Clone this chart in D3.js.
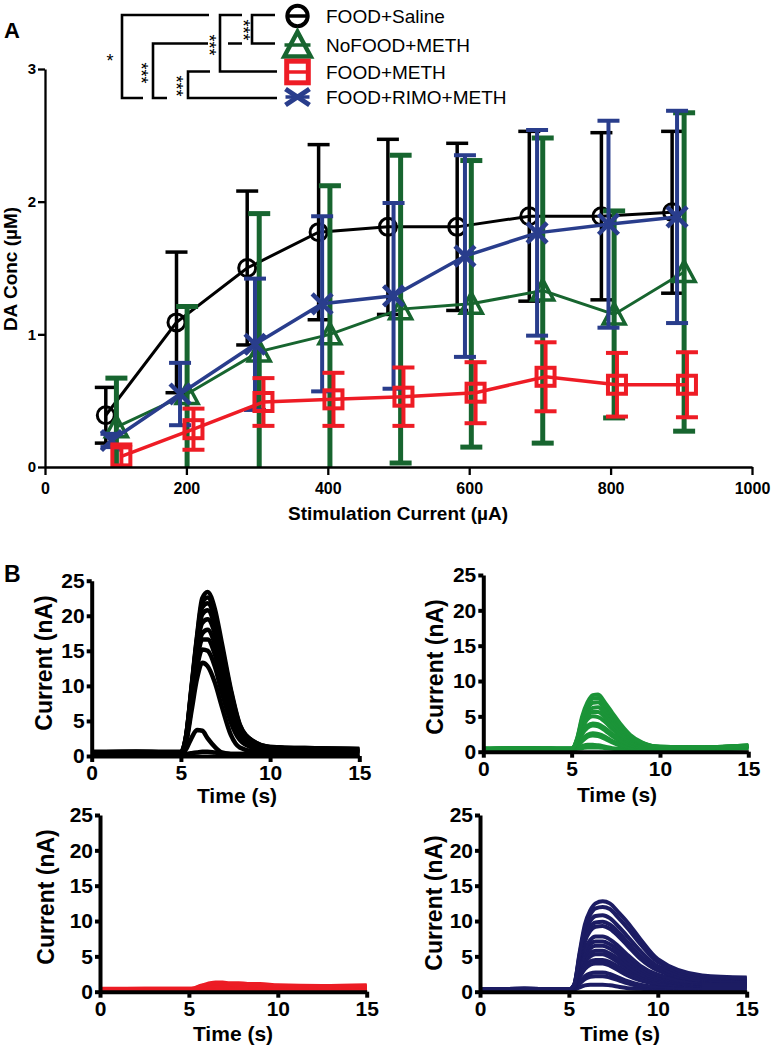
<!DOCTYPE html>
<html><head><meta charset="utf-8">
<script src="https://cdn.jsdelivr.net/npm/d3@7"></script>
<style>
body{margin:0;background:#fff}
svg{display:block}
text{font-family:Arial,"Liberation Sans",sans-serif}
</style>
</head><body>
<svg id="c" width="773" height="1050"></svg>
<script>
// ---------------- DATA: panel A ----------------
const seriesNames = ["FOOD+Saline","NoFOOD+METH","FOOD+METH","FOOD+RIMO+METH"];
const xTicksA = [0,200,400,600,800,1000];
const yTicksA = [0,1,2,3];
// stimulation current (µA) at which each group's mean is plotted (groups are offset slightly)
const salineX  = [86,186,286,387,485,583,685,787,887];
const nofoodX  = [101,201,303,403,503,603,704,805,904];
const foodMethX= [108,210,309,408,507,609,708,809,908];
const rimoX    = [94,191,297,392,493,594,696,797,894];
// DA concentration (µM) means and SEM
const salineMean = [0.39,1.09,1.50,1.77,1.81,1.81,1.89,1.89,1.92];
const salineErr  = [0.21,0.53,0.58,0.66,0.66,0.63,0.64,0.63,0.61];
const nofoodMean = [0.30,0.55,0.87,1.00,1.19,1.23,1.33,1.15,1.47];
const nofoodErr  = [0.37,0.66,1.04,1.12,1.16,1.08,1.15,0.78,1.20];
const foodMethMean = [0.08,0.285,0.49,0.51,0.53,0.56,0.68,0.62,0.62];
const foodMethErr  = [0.09,0.155,0.18,0.20,0.22,0.23,0.26,0.24,0.245];
const rimoMean = [0.20,0.55,0.925,1.23,1.29,1.59,1.765,1.83,1.885];
const rimoErr  = [0.05,0.235,0.495,0.66,0.70,0.76,0.775,0.78,0.80];
const sigLabels = ["***","***","***","***","*"];

// ---------------- DATA: panel B ----------------
const xTicksB = [0,5,10,15];
const yTicksB = [0,5,10,15,20,25];
const traceTimes = [0,2.5,5.0,5.3,5.6,5.9,6.2,6.5,6.9,7.3,7.8,8.3,9.0,10,12.5,15];
const salineTraces = [
 [0.2,0.3,0.2,0.3,0.4,0.5,0.6,0.6,0.5,0.4,0.3,0.3,0.3,0.3,0.3,0.3],
 [0.3,0.4,0.3,1.0,2.6,3.7,3.6,2.5,1.3,0.5,0.3,0.3,0.3,0.3,0.3,0.3],
 [0.3,0.4,0.4,2.0,6.5,11.0,13.3,12.8,10.5,7.0,3.0,1.2,0.7,0.6,0.5,0.5],
 [0.4,0.5,0.4,2.2,7.3,12.6,15.2,15.0,12.8,9.0,4.8,2.3,1.2,0.8,0.7,0.6],
 [0.4,0.5,0.4,2.4,8.0,13.6,16.6,16.6,14.5,10.6,6.0,3.0,1.5,0.9,0.8,0.7],
 [0.4,0.5,0.4,2.5,8.5,14.5,17.5,18.0,16.0,12.0,7.0,3.5,1.8,1.0,0.8,0.7],
 [0.4,0.5,0.4,2.6,9.0,15.5,19.0,19.5,17.5,13.0,7.7,3.8,1.9,1.1,0.9,0.8],
 [0.5,0.5,0.5,2.8,9.3,16.0,20.2,20.8,18.6,14.0,8.3,4.0,2.0,1.2,1.0,0.9],
 [0.5,0.6,0.5,2.9,9.6,16.4,21.2,21.8,19.6,14.8,8.8,4.2,2.1,1.2,1.0,0.9],
 [0.5,0.6,0.5,3.0,9.8,16.7,21.9,22.6,20.3,15.4,9.2,4.4,2.2,1.3,1.1,1.0],
 [0.6,0.6,0.6,3.0,10.0,17.0,22.5,23.4,21.0,16.0,9.5,4.5,2.2,1.3,1.1,1.0]
];
const nofoodTraces = [
 [0.2,0.3,0.3,0.4,0.5,0.6,0.6,0.6,0.5,0.4,0.3,0.3,0.3,0.3,0.3,0.5],
 [0.3,0.3,0.3,0.5,0.8,1.0,1.0,0.9,0.7,0.5,0.4,0.3,0.3,0.3,0.4,0.5],
 [0.3,0.3,0.3,0.7,1.5,2.1,2.3,2.2,1.8,1.3,0.8,0.5,0.4,0.4,0.4,0.6],
 [0.3,0.4,0.3,0.8,1.8,2.4,2.6,2.5,2.1,1.5,1.0,0.6,0.5,0.4,0.5,0.6],
 [0.3,0.4,0.4,1.0,2.5,3.4,3.7,3.6,3.0,2.2,1.4,0.9,0.6,0.5,0.5,0.7],
 [0.3,0.4,0.4,1.1,2.7,3.7,4.0,3.9,3.3,2.5,1.6,1.0,0.7,0.5,0.5,0.7],
 [0.4,0.4,0.4,1.3,3.3,4.6,5.0,4.9,4.2,3.2,2.1,1.3,0.8,0.6,0.6,0.8],
 [0.4,0.4,0.4,1.4,3.6,5.1,5.6,5.6,4.8,3.7,2.4,1.5,0.9,0.6,0.6,0.8],
 [0.4,0.5,0.4,1.5,4.0,5.6,6.2,6.3,5.4,4.2,2.8,1.8,1.0,0.6,0.6,0.8],
 [0.4,0.5,0.4,1.6,4.4,6.1,6.9,7.0,6.0,4.7,3.2,2.0,1.1,0.7,0.6,0.8],
 [0.4,0.5,0.4,1.7,4.7,6.6,7.5,7.6,6.5,5.1,3.5,2.2,1.2,0.7,0.6,0.9],
 [0.4,0.5,0.4,1.8,5.0,7.0,8.0,8.1,6.9,5.5,3.8,2.4,1.3,0.7,0.6,0.9]
];
const foodMethTraces = [
 [0.1,0.1,0.1,0.1,0.2,0.2,0.2,0.2,0.2,0.2,0.2,0.2,0.1,0.1,0.1,0.1],
 [0.2,0.2,0.2,0.2,0.3,0.3,0.4,0.4,0.4,0.4,0.3,0.3,0.3,0.3,0.2,0.3],
 [0.2,0.2,0.2,0.2,0.3,0.4,0.5,0.5,0.5,0.5,0.5,0.4,0.4,0.3,0.3,0.3],
 [0.2,0.2,0.3,0.3,0.4,0.5,0.6,0.7,0.7,0.6,0.6,0.6,0.5,0.4,0.4,0.4],
 [0.3,0.3,0.3,0.3,0.5,0.6,0.7,0.8,0.8,0.8,0.7,0.7,0.6,0.5,0.5,0.5],
 [0.3,0.3,0.3,0.3,0.5,0.7,0.8,0.9,0.9,0.9,0.8,0.8,0.7,0.6,0.6,0.6],
 [0.3,0.3,0.3,0.4,0.6,0.8,1.0,1.0,1.0,1.0,0.9,0.9,0.8,0.7,0.6,0.7],
 [0.3,0.4,0.4,0.4,0.7,0.9,1.1,1.2,1.1,1.1,1.0,1.0,0.9,0.8,0.7,0.8],
 [0.4,0.4,0.4,0.5,0.8,1.0,1.2,1.3,1.3,1.2,1.2,1.1,1.1,0.9,0.8,0.9]
];
const rimoTraces = [
 [0.2,0.2,0.2,0.3,0.6,0.9,1.0,1.0,1.0,0.9,0.7,0.5,0.4,0.3,0.3,0.3],
 [0.2,0.2,0.2,0.4,1.1,1.8,2.1,2.2,2.2,2.0,1.6,1.2,0.8,0.6,0.5,0.5],
 [0.2,0.2,0.2,0.4,1.3,2.2,2.6,2.7,2.7,2.5,2.0,1.5,1.0,0.7,0.6,0.6],
 [0.3,0.3,0.3,0.5,2.0,3.2,3.8,4.0,4.0,3.7,3.0,2.3,1.6,1.1,0.8,0.8],
 [0.3,0.3,0.3,0.5,2.2,3.6,4.3,4.5,4.5,4.2,3.5,2.7,1.8,1.2,0.9,0.9],
 [0.3,0.3,0.3,0.6,2.6,4.2,5.0,5.3,5.3,4.9,4.1,3.2,2.2,1.5,1.0,1.0],
 [0.3,0.3,0.3,0.6,2.8,4.6,5.5,5.8,5.8,5.4,4.6,3.6,2.5,1.7,1.1,1.1],
 [0.3,0.3,0.3,0.7,3.1,5.1,6.1,6.5,6.5,6.1,5.2,4.1,2.9,1.9,1.2,1.2],
 [0.3,0.3,0.3,0.7,3.3,5.5,6.7,7.1,7.1,6.7,5.8,4.6,3.3,2.1,1.3,1.3],
 [0.3,0.3,0.3,0.8,3.6,6.0,7.3,7.8,7.8,7.4,6.4,5.2,3.7,2.4,1.4,1.4],
 [0.3,0.4,0.3,0.9,4.2,7.1,8.6,9.2,9.3,8.9,7.8,6.5,4.7,3.0,1.6,1.5],
 [0.3,0.4,0.3,0.9,4.5,7.6,9.2,9.8,9.9,9.5,8.4,7.0,5.1,3.2,1.7,1.6],
 [0.3,0.4,0.3,1.0,4.9,8.3,10.0,10.7,10.8,10.4,9.2,7.8,5.8,3.6,1.9,1.8],
 [0.3,0.4,0.3,1.0,5.2,9.0,10.9,11.8,12.0,11.7,10.4,9.0,6.8,4.2,2.1,1.9],
 [0.3,0.4,0.3,1.0,5.5,9.5,11.5,12.5,12.8,12.5,11.2,9.8,7.5,4.6,2.3,2.0]
];

// ---------------- DRAWING ----------------
const svg = d3.select("#c");
const colA = ["#000000","#17652f","#ee1c25","#293d8c"];
const colB = ["#000000","#1b9438","#ec1c24","#1c1c63"];

// ---- Panel A ----
const xA = d3.scaleLinear().domain([0,1000]).range([45,752]);
const yA = d3.scaleLinear().domain([0,3]).range([467,69]);
const gA = svg.append("g");

svg.append("text").attr("x",4).attr("y",38).attr("font-size",22).attr("font-weight","bold").text("A");

const groups = [
  {x:salineX, m:salineMean, e:salineErr, marker:"circle", col:colA[0], bw:3.5, lw:3},
  {x:nofoodX, m:nofoodMean, e:nofoodErr, marker:"triangle", col:colA[1], bw:5, lw:3},
  {x:rimoX, m:rimoMean, e:rimoErr, marker:"x", col:colA[3], bw:4, lw:3.5},
  {x:foodMethX, m:foodMethMean, e:foodMethErr, marker:"square", col:colA[2], bw:4, lw:3.5}
];

function drawMarker(g, type, cx, cy, col, big) {
  const s = big ? 1.2 : 1;
  if (type === "circle") {
    g.append("circle").attr("cx",cx).attr("cy",cy).attr("r",8.5*s)
      .attr("fill","none").attr("stroke",col).attr("stroke-width",big?4:3);
  } else if (type === "square") {
    const h = 9*s;
    g.append("rect").attr("x",cx-h).attr("y",cy-h).attr("width",2*h).attr("height",2*h)
      .attr("fill","none").attr("stroke",col).attr("stroke-width",big?5:4);
  } else if (type === "triangle") {
    const w = 11*s, t = 11*s, b = 9.5*s;
    g.append("path").attr("d",`M${cx},${cy-t}L${cx+w},${cy+b}L${cx-w},${cy+b}Z`)
      .attr("fill","none").attr("stroke",col).attr("stroke-width",big?4.5:3.5).attr("stroke-linejoin","miter");
  } else if (type === "x") {
    const w = big ? 12 : 10, h = big ? 8 : 10;
    g.append("path").attr("d",`M${cx-w},${cy-h}L${cx+w},${cy+h}M${cx-w},${cy+h}L${cx+w},${cy-h}`)
      .attr("fill","none").attr("stroke",col).attr("stroke-width",big?5:4.5);
  }
}

groups.forEach(gr => {
  const g = gA.append("g");
  const pts = gr.x.map((xv,i)=>({x:xv, m:gr.m[i], e:gr.e[i]}));
  pts.forEach(p => {
    const lo = Math.max(0, p.m - p.e), hi = p.m + p.e;
    const X = xA(p.x);
    g.append("line").attr("x1",X).attr("x2",X).attr("y1",yA(lo)).attr("y2",yA(hi))
      .attr("stroke",gr.col).attr("stroke-width",gr.bw);
    g.append("line").attr("x1",X-11).attr("x2",X+11).attr("y1",yA(hi)).attr("y2",yA(hi))
      .attr("stroke",gr.col).attr("stroke-width",gr.bw);
    if (p.m - p.e >= 0.02) {
      g.append("line").attr("x1",X-11).attr("x2",X+11).attr("y1",yA(lo)).attr("y2",yA(lo))
        .attr("stroke",gr.col).attr("stroke-width",gr.bw);
    }
  });
  g.append("path").datum(pts)
    .attr("d", d3.line().x(d=>xA(d.x)).y(d=>yA(d.m)))
    .attr("fill","none").attr("stroke",gr.col).attr("stroke-width",gr.lw);
  pts.forEach(p => drawMarker(g, gr.marker, xA(p.x), yA(p.m), gr.col, false));
});

const axYA = gA.append("g").attr("transform","translate(45,0)")
  .call(d3.axisLeft(yA).tickValues(yTicksA).tickSize(7).tickSizeOuter(0).tickPadding(2).tickFormat(d3.format("d")));
const axXA = gA.append("g").attr("transform","translate(0,467)")
  .call(d3.axisBottom(xA).tickValues(xTicksA).tickSize(8).tickSizeOuter(0).tickPadding(8).tickFormat(d3.format("d")));
[axYA, axXA].forEach(a => {
  a.selectAll("path,line").attr("stroke","#000").attr("stroke-width",2.3);
  a.selectAll("text").attr("font-weight","bold").attr("fill","#000")
   .attr("font-family","Arial, 'Liberation Sans', sans-serif");
});
axYA.selectAll("text").attr("font-size",15);
axXA.selectAll("text").attr("font-size",16);

gA.append("text").attr("transform","translate(17,269) rotate(-90)").attr("text-anchor","middle")
  .attr("font-size",19).attr("font-weight","bold").text("DA Conc (µM)");
gA.append("text").attr("x",398).attr("y",520).attr("text-anchor","middle")
  .attr("font-size",19).attr("font-weight","bold").text("Stimulation Current (µA)");

// legend
const legRows = [16,45,72,97];
const legMarkers = ["circle","triangle","square","x"];
const legCols = [colA[0],colA[1],colA[2],colA[3]];
const legHalf = [10,13,11,12];
const gL = svg.append("g");
seriesNames.forEach((nm,i) => {
  const cx = 297.5, cy = legRows[i];
  gL.append("line").attr("x1",cx-legHalf[i]).attr("x2",cx+legHalf[i]).attr("y1",cy).attr("y2",cy)
    .attr("stroke",legCols[i]).attr("stroke-width",3.5);
  drawMarker(gL, legMarkers[i], cx, cy, legCols[i], true);
  gL.append("text").attr("x",326).attr("y",cy+7).attr("font-size",19).text(nm);
});

// significance brackets
const bRow = [15,43.5,71.5,98];
const gS = svg.append("g").attr("fill","none").attr("stroke","#000").attr("stroke-width",2.6);
const brk = (d) => gS.append("path").attr("d",d);
brk(`M275,${bRow[0]}H252V${bRow[1]}H275`);
brk(`M242,${bRow[0]}H220V${bRow[2]}H277M228,${bRow[1]}H242`);
brk(`M210,${bRow[2]}H188V${bRow[3]}H277`);
brk(`M208,${bRow[1]}H153V${bRow[3]}H167`);
brk(`M209,${bRow[0]}H122V${bRow[3]}H143`);
const starPos = [[246.5,30],[213,45],[180,86],[145,73]];
starPos.forEach((p,i) => {
  svg.append("text").attr("transform",`translate(${p[0]-10},${p[1]}) rotate(90)`)
    .attr("text-anchor","middle").attr("font-size",18).text(sigLabels[i]);
});
svg.append("text").attr("x",110).attr("y",67).attr("text-anchor","middle").attr("font-size",18).text(sigLabels[4]);

// ---- Panel B ----
svg.append("text").attr("x",4).attr("y",582).attr("font-size",23).attr("font-weight","bold").text("B");

const panels = [
  {traces:salineTraces, col:colB[0], sw:4.5, left:91.7, right:359.3, bottom:756, top:580.7, tx:237, ty:803, cx:52, cy:663},
  {traces:nofoodTraces, col:colB[1], sw:4, left:483.3, right:748.3, bottom:751.7, top:575, tx:617, ty:802, cx:443, cy:667},
  {traces:foodMethTraces, col:colB[2], sw:4, left:100, right:366.7, bottom:991.7, top:815, tx:233, ty:1041, cx:54, cy:897},
  {traces:rimoTraces, col:colB[3], sw:4, left:480, right:746.7, bottom:991.7, top:815, tx:620, ty:1041, cx:442, cy:903}
];

panels.forEach(p => {
  const x = d3.scaleLinear().domain([0,15]).range([p.left,p.right]);
  const y = d3.scaleLinear().domain([0,25]).range([p.bottom,p.top]);
  const g = svg.append("g");
  const line = d3.line().x((d,i)=>x(traceTimes[i])).y(d=>y(d)).curve(d3.curveMonotoneX);
  p.traces.forEach(tr => {
    g.append("path").attr("d", line(tr)).attr("fill","none").attr("stroke",p.col)
      .attr("stroke-width",p.sw).attr("stroke-linejoin","round");
  });
  const ay = g.append("g").attr("transform",`translate(${p.left},0)`)
    .call(d3.axisLeft(y).tickValues(yTicksB).tickSize(5).tickSizeOuter(0).tickPadding(2));
  const ax = g.append("g").attr("transform",`translate(0,${p.bottom})`)
    .call(d3.axisBottom(x).tickValues(xTicksB).tickSize(6).tickSizeOuter(0).tickPadding(3));
  [ay,ax].forEach(a => {
    a.selectAll("path,line").attr("stroke","#000").attr("stroke-width",4);
    a.selectAll("text").attr("font-size",21).attr("font-weight","bold").attr("fill","#000")
      .attr("font-family","Arial, 'Liberation Sans', sans-serif");
  });
  g.append("text").attr("x",p.tx).attr("y",p.ty).attr("text-anchor","middle")
    .attr("font-size",21).attr("font-weight","bold").text("Time (s)");
  g.append("text").attr("transform",`translate(${p.cx},${p.cy}) rotate(-90)`).attr("text-anchor","middle")
    .attr("font-size",23).attr("font-weight","bold").text("Current (nA)");
});
</script>
</body></html>
